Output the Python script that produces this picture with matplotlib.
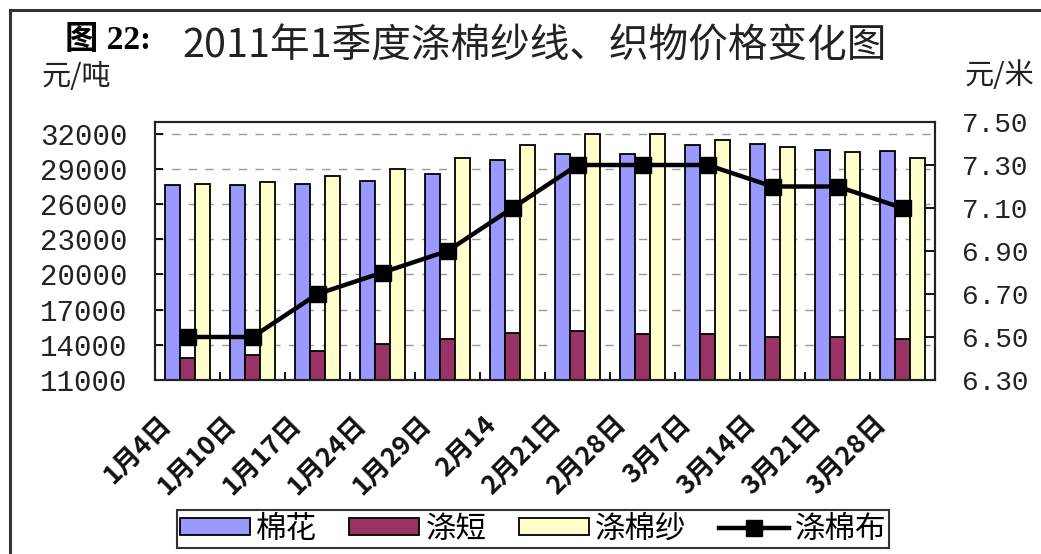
import matplotlib
matplotlib.use("Agg")
import matplotlib.pyplot as plt
from matplotlib.lines import Line2D
from matplotlib.patches import Patch
from matplotlib.transforms import ScaledTranslation
import numpy as np

plt.rcParams['font.family'] = ['Noto Sans CJK SC', 'DejaVu Sans']

# weekly quotes, Q1 2011
dates = ["1月4日", "1月10日", "1月17日", "1月24日", "1月29日", "2月14",
         "2月21日", "2月28日", "3月7日", "3月14日", "3月21日", "3月28日"]
cotton = [27600, 27600, 27700, 28000, 28600, 29800,
          30300, 30300, 31000, 31100, 30600, 30500]
staple = [12900, 13100, 13500, 14100, 14500, 15000,
          15200, 14900, 14900, 14700, 14700, 14500]
yarn = [27700, 27900, 28400, 29000, 29900, 31000,
        32000, 32000, 31500, 30900, 30400, 29900]
fabric = [6.50, 6.50, 6.70, 6.80, 6.90, 7.10,
          7.30, 7.30, 7.30, 7.20, 7.20, 7.10]

left_ticks = [11000, 14000, 17000, 20000, 23000, 26000, 29000, 32000]
right_ticks = [6.30, 6.50, 6.70, 6.90, 7.10, 7.30, 7.50]

names = ["棉花", "涤短", "涤棉纱", "涤棉布"]
colors = ["#9999ff", "#993366", "#ffffcc"]

W, H = 1041, 554
fig = plt.figure(figsize=(W / 100, H / 100), dpi=100)

# outer frame (top and left edges only)
fig.add_artist(Line2D([10 / W, 10 / W], [0, 1 - 10 / H], transform=fig.transFigure,
                      color="#333333", lw=2.2))
fig.add_artist(Line2D([10 / W, 1], [1 - 10 / H, 1 - 10 / H], transform=fig.transFigure,
                      color="#333333", lw=2.2))

ax1 = fig.add_axes([155 / W, 1 - 380 / H, 780 / W, 258 / H])
x = np.arange(len(dates))
bw = 0.235
edge = dict(edgecolor="black", linewidth=1.3)
ax1.bar(x - bw, cotton, bw, color=colors[0], **edge)
ax1.bar(x, staple, bw, color=colors[1], **edge)
ax1.bar(x + bw, yarn, bw, color=colors[2], **edge)

ax1.set_xlim(-0.5, len(dates) - 0.5)
ax1.set_ylim(11000, 33000)
ax1.set_yticks(left_ticks)
ax1.set_axisbelow(True)
ax1.yaxis.grid(True, color="#999999", linestyle=(0, (6, 6)), linewidth=1.0)

mono = "Liberation Mono"
ax1.set_yticklabels([str(v) for v in left_ticks], fontfamily=mono, fontsize=21, color="#222222")
ax1.tick_params(axis="y", direction="in", length=6, width=1.3, pad=20)

ax1.set_xticks(x)
ax1.set_xticks(x[:-1] + 0.5, minor=True)
ax1.tick_params(axis="x", which="major", length=0, pad=22)
ax1.tick_params(axis="x", which="minor", direction="in", length=6, width=1.3)
ax1.set_xticklabels(dates, rotation=45, ha="right", va="top", rotation_mode="anchor",
                    fontsize=19, fontweight="bold", color="#111111")
shift = ScaledTranslation(-0.30, 0, fig.dpi_scale_trans)
for lab in ax1.get_xticklabels():
    lab.set_transform(lab.get_transform() + shift)

for s in ax1.spines.values():
    s.set_linewidth(1.5)
    s.set_color("#222222")

ax2 = ax1.twinx()
ax2.plot(x, fabric, color="black", lw=3.2, marker="s", markersize=12,
         markerfacecolor="black", markeredgecolor="black")
ax2.set_ylim(6.30, 7.50)
ax2.set_yticks(right_ticks)
ax2.set_yticklabels(["%.2f" % v for v in right_ticks], fontfamily=mono, fontsize=20,
                    color="#222222")
ax2.tick_params(axis="y", direction="in", length=8, width=1.3, pad=19.5)
for s in ax2.spines.values():
    s.set_linewidth(1.5)
    s.set_color("#222222")

# titles and unit labels
fig.text(65 / W, 1 - 40 / H, "图 22:", fontsize=24, fontweight="bold",
         family=["Liberation Serif", "Noto Sans CJK SC"], ha="left", va="center")
fig.text(535 / W, 1 - 47 / H, "2011年1季度涤棉纱线、织物价格变化图", fontsize=28.5,
         ha="center", va="center", color="#222222")
fig.text(42 / W, 1 - 77 / H, "元/吨", fontsize=21, ha="left", va="center", color="#222222")
fig.text(1034 / W, 1 - 76 / H, "元/米", fontsize=21, ha="right", va="center", color="#222222")

handles = [Patch(facecolor=colors[0], edgecolor="black", linewidth=1.3),
           Patch(facecolor=colors[1], edgecolor="black", linewidth=1.3),
           Patch(facecolor=colors[2], edgecolor="black", linewidth=1.3),
           Line2D([], [], color="black", lw=3.2, marker="s", markersize=12)]
leg = fig.legend(handles, names, loc="center", bbox_to_anchor=(533 / W, 1 - 529 / H),
                 ncol=4, fontsize=22, frameon=True, fancybox=False, handlelength=2.3,
                 handleheight=0.5, handletextpad=0.2, columnspacing=1.05,
                 borderpad=0.1, borderaxespad=0)
leg.get_frame().set_edgecolor("black")
leg.get_frame().set_linewidth(1.5)

fig.savefig("out.png", dpi=100, facecolor="white")
